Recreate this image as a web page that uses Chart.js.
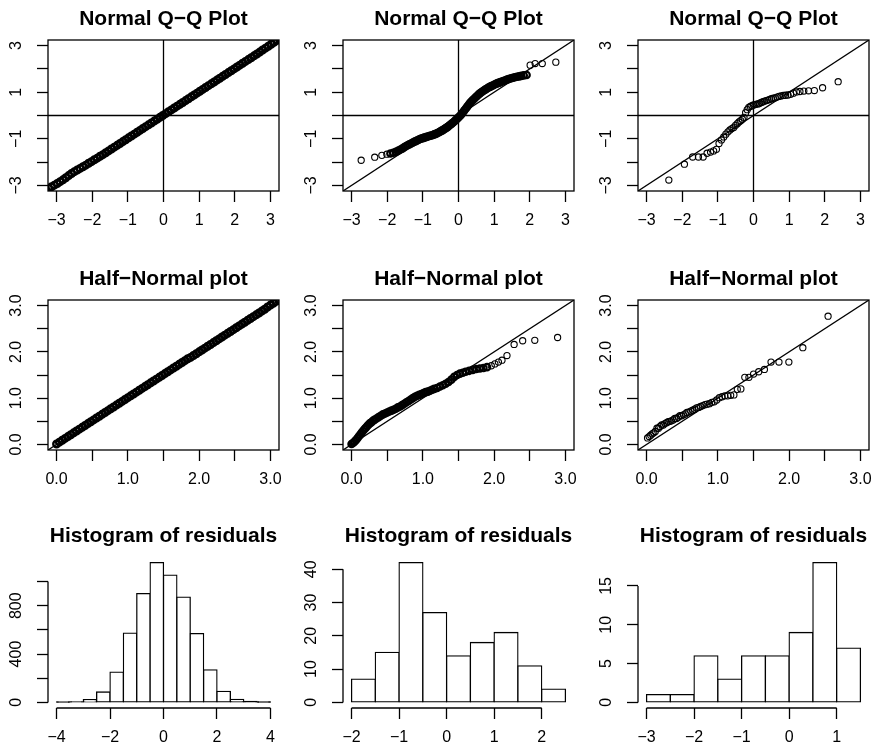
<!DOCTYPE html>
<html><head><meta charset="utf-8">
<script src="https://cdn.jsdelivr.net/npm/chart.js@4.4.1/dist/chart.umd.min.js"></script>
<style>
html,body{margin:0;padding:0;background:#fff;width:873px;height:749px;overflow:hidden;position:relative;}
canvas{position:absolute;}
</style></head><body>
<script>
// ---------------- DATA ----------------
const titles = ['Normal Q\u2212Q Plot', 'Half\u2212Normal plot', 'Histogram of residuals'];

// Q-Q / half-normal axis limits (before R's 4% extension)
const qqLim = [-3, 3];
const hnLim = [0, 3];
const qqTicks = [-3, -2, -1, 0, 1, 2, 3];
const qqXLabels = ['\u22123', '\u22122', '\u22121', '0', '1', '2', '3'];
const qqYLabels = ['\u22123', '', '\u22121', '', '1', '', '3'];
const hnTicks = [0, 0.5, 1, 1.5, 2, 2.5, 3];
const hnLabels = ['0.0', '', '1.0', '', '2.0', '', '3.0'];

// Panel 1: Normal Q-Q, large sample (dense band)
const qqDenseX = [
-3.30,-3.22,-3.14,-3.06,-2.98,-2.90,-2.82,-2.74,-2.66,-2.58,
-2.50,-2.42,-2.34,-2.26,-2.18,-2.10,-2.02,-1.94,-1.86,-1.78,
-1.70,-1.62,-1.54,-1.46,-1.38,-1.30,-1.22,-1.14,-1.06,-0.98,
-0.90,-0.82,-0.74,-0.66,-0.58,-0.50,-0.42,-0.34,-0.26,-0.18,
-0.10,-0.02,0.06,0.14,0.22,0.30,0.38,0.46,0.54,0.62,
0.70,0.78,0.86,0.94,1.02,1.10,1.18,1.26,1.34,1.42,
1.50,1.58,1.66,1.74,1.82,1.90,1.98,2.06,2.14,2.22,
2.30,2.38,2.46,2.54,2.62,2.70,2.78,2.86,2.94,3.02,
3.10,3.18,3.26];
const qqDenseY = [
-3.21,-3.13,-3.06,-2.99,-2.92,-2.84,-2.76,-2.67,-2.58,-2.49,
-2.41,-2.34,-2.27,-2.20,-2.13,-2.05,-1.98,-1.90,-1.83,-1.75,
-1.68,-1.60,-1.52,-1.44,-1.36,-1.28,-1.20,-1.12,-1.04,-0.96,
-0.88,-0.80,-0.72,-0.64,-0.56,-0.48,-0.40,-0.32,-0.24,-0.16,
-0.08,0.00,0.08,0.16,0.24,0.32,0.40,0.48,0.56,0.64,
0.72,0.80,0.88,0.96,1.04,1.12,1.20,1.28,1.36,1.44,
1.52,1.60,1.68,1.76,1.84,1.92,2.00,2.08,2.16,2.24,
2.32,2.40,2.48,2.56,2.64,2.72,2.81,2.89,2.97,3.06,
3.14,3.23,3.31];

// Panel 2: Normal Q-Q, medium sample
const qqMidX = [
-2.73,-2.35,-2.15,-2.01,-1.91,-1.83,-1.76,-1.70,-1.64,-1.58,
-1.53,-1.48,-1.43,-1.38,-1.33,-1.28,-1.24,-1.20,-1.16,-1.12,
-1.08,-1.04,-1.00,-0.96,-0.92,-0.88,-0.84,-0.80,-0.76,-0.72,
-0.68,-0.64,-0.60,-0.56,-0.52,-0.48,-0.44,-0.40,-0.36,-0.32,
-0.28,-0.24,-0.20,-0.16,-0.12,-0.08,-0.04,0.00,0.04,0.08,
0.12,0.16,0.20,0.24,0.28,0.32,0.36,0.40,0.44,0.48,
0.52,0.56,0.60,0.64,0.68,0.72,0.76,0.80,0.84,0.88,
0.92,0.96,1.00,1.04,1.08,1.12,1.16,1.20,1.24,1.28,
1.33,1.38,1.43,1.48,1.53,1.58,1.64,1.70,1.76,1.83,
1.91,2.01,2.15,2.35,2.73];
const qqMidY = [
-1.92,-1.79,-1.71,-1.66,-1.63,-1.60,-1.56,-1.52,-1.47,-1.42,
-1.37,-1.32,-1.28,-1.24,-1.20,-1.16,-1.13,-1.10,-1.07,-1.04,
-1.01,-0.99,-0.97,-0.95,-0.93,-0.91,-0.89,-0.87,-0.86,-0.84,
-0.81,-0.79,-0.76,-0.73,-0.70,-0.66,-0.63,-0.59,-0.55,-0.51,
-0.46,-0.41,-0.36,-0.31,-0.26,-0.20,-0.14,-0.08,-0.02,0.05,
0.13,0.21,0.29,0.37,0.45,0.53,0.60,0.66,0.72,0.78,
0.84,0.90,0.95,1.00,1.04,1.08,1.12,1.16,1.20,1.23,
1.26,1.29,1.32,1.35,1.38,1.40,1.42,1.45,1.47,1.49,
1.52,1.55,1.58,1.60,1.62,1.64,1.66,1.68,1.70,1.72,
1.74,2.16,2.23,2.23,2.29];

// Panel 3: Normal Q-Q, small sample (57)
const qqSmallX = [
-2.375,-1.938,-1.707,-1.544,-1.412,-1.302,-1.205,-1.119,-1.040,-0.967,
-0.899,-0.835,-0.775,-0.716,-0.661,-0.607,-0.555,-0.504,-0.455,-0.407,
-0.359,-0.313,-0.267,-0.221,-0.176,-0.132,-0.088,-0.044,0.000,0.044,
0.088,0.132,0.176,0.221,0.267,0.313,0.359,0.407,0.455,0.504,
0.555,0.607,0.661,0.716,0.775,0.835,0.899,0.967,1.040,1.119,
1.205,1.302,1.412,1.544,1.707,1.938,2.375];
const qqSmallY = [
-2.77,-2.09,-1.78,-1.78,-1.78,-1.62,-1.57,-1.52,-1.45,-1.20,
-1.05,-0.92,-0.80,-0.70,-0.62,-0.56,-0.51,-0.42,-0.35,-0.28,
-0.22,-0.16,-0.08,0.12,0.25,0.35,0.39,0.42,0.45,0.47,
0.49,0.495,0.53,0.56,0.59,0.62,0.64,0.66,0.69,0.72,
0.74,0.76,0.79,0.82,0.84,0.86,0.87,0.88,0.91,0.96,
1.01,1.03,1.05,1.06,1.07,1.19,1.45];

// Panel 4: Half-normal, large sample
const hnDenseX = [
0.00,0.04,0.08,0.12,0.16,0.20,0.24,0.28,0.32,0.36,
0.40,0.44,0.48,0.52,0.56,0.60,0.64,0.68,0.72,0.76,
0.80,0.84,0.88,0.92,0.96,1.00,1.04,1.08,1.12,1.16,
1.20,1.24,1.28,1.32,1.36,1.40,1.44,1.48,1.52,1.56,
1.60,1.64,1.68,1.72,1.76,1.80,1.84,1.88,1.92,1.96,
2.00,2.04,2.08,2.12,2.16,2.20,2.24,2.28,2.32,2.36,
2.40,2.44,2.48,2.52,2.56,2.60,2.64,2.68,2.72,2.76,
2.80,2.84,2.88,2.92,2.96,3.00,3.04,3.08,3.12,3.16,
3.20];
const hnDenseY = [
0.01,0.05,0.09,0.13,0.17,0.21,0.25,0.29,0.33,0.37,
0.41,0.45,0.49,0.53,0.57,0.61,0.65,0.69,0.73,0.77,
0.81,0.85,0.89,0.93,0.97,1.01,1.05,1.09,1.13,1.17,
1.21,1.25,1.29,1.33,1.37,1.41,1.45,1.49,1.53,1.57,
1.61,1.65,1.69,1.73,1.77,1.81,1.85,1.88,1.92,1.96,
2.00,2.04,2.08,2.12,2.16,2.20,2.24,2.28,2.32,2.36,
2.40,2.44,2.48,2.52,2.56,2.60,2.64,2.68,2.72,2.76,
2.80,2.84,2.88,2.92,2.97,3.01,3.05,3.09,3.13,3.17,
3.21];

// Panel 5: Half-normal, medium sample
const hnMidX = [
0.00,0.02,0.04,0.06,0.08,0.10,0.12,0.14,0.16,0.18,
0.20,0.22,0.24,0.26,0.28,0.30,0.32,0.35,0.38,0.41,
0.44,0.47,0.50,0.53,0.56,0.59,0.62,0.65,0.68,0.71,
0.74,0.77,0.80,0.83,0.86,0.89,0.92,0.95,0.98,1.01,
1.04,1.07,1.10,1.13,1.16,1.20,1.24,1.28,1.32,1.36,
1.40,1.44,1.48,1.52,1.56,1.60,1.65,1.70,1.75,1.80,
1.85,1.90,1.96,2.01,2.06,2.11,2.18,2.28,2.40,2.57,
2.89];
const hnMidY = [
0.01,0.03,0.06,0.09,0.13,0.17,0.21,0.25,0.29,0.33,
0.36,0.40,0.43,0.46,0.48,0.51,0.53,0.56,0.59,0.62,
0.65,0.67,0.69,0.71,0.73,0.75,0.77,0.80,0.82,0.85,
0.88,0.91,0.94,0.97,1.00,1.03,1.05,1.07,1.09,1.11,
1.13,1.14,1.16,1.18,1.20,1.22,1.25,1.28,1.31,1.35,
1.40,1.46,1.50,1.53,1.55,1.57,1.59,1.61,1.63,1.64,
1.65,1.67,1.70,1.74,1.78,1.82,1.92,2.16,2.24,2.25,
2.31];

// Panel 6: Half-normal, small sample (57)
const hnSmallX = [
0.014,0.036,0.058,0.079,0.101,0.123,0.146,0.168,0.190,0.212,
0.235,0.257,0.281,0.304,0.327,0.349,0.373,0.396,0.421,0.445,
0.469,0.492,0.517,0.543,0.567,0.592,0.620,0.647,0.675,0.702,
0.730,0.759,0.789,0.819,0.850,0.882,0.915,0.949,0.984,1.021,
1.059,1.097,1.138,1.180,1.225,1.273,1.323,1.378,1.436,1.501,
1.573,1.653,1.746,1.857,1.996,2.192,2.546];
const hnSmallY = [
0.14,0.17,0.20,0.23,0.25,0.28,0.35,0.35,0.39,0.42,
0.42,0.45,0.47,0.49,0.50,0.51,0.53,0.56,0.56,0.59,
0.62,0.62,0.64,0.66,0.69,0.70,0.72,0.74,0.76,0.79,
0.80,0.82,0.84,0.86,0.87,0.88,0.91,0.92,0.96,1.01,
1.03,1.05,1.05,1.06,1.07,1.19,1.20,1.45,1.45,1.52,
1.57,1.62,1.78,1.78,1.78,2.09,2.77];

// Histograms
const hist1Breaks = [-4,-3.5,-3,-2.5,-2,-1.5,-1,-0.5,0,0.5,1,1.5,2,2.5,3,3.5,4];
const hist1Counts = [2,5,22,86,251,573,901,1157,1053,871,570,270,91,25,8,3];
const hist1XTicks = [-4,-2,0,2,4];
const hist1XLabels = ['\u22124','\u22122','0','2','4'];
const hist1YTicks = [0,200,400,600,800,1000];
const hist1YLabels = ['0','','400','','800',''];

const hist2Breaks = [-2,-1.5,-1,-0.5,0,0.5,1,1.5,2,2.5];
const hist2Counts = [7,15,42,27,14,18,21,11,4];
const hist2XTicks = [-2,-1,0,1,2];
const hist2XLabels = ['\u22122','\u22121','0','1','2'];
const hist2YTicks = [0,10,20,30,40];
const hist2YLabels = ['0','10','20','30','40'];

const hist3Breaks = [-3,-2.5,-2,-1.5,-1,-0.5,0,0.5,1,1.5];
const hist3Counts = [1,1,6,3,6,6,9,18,7];
const hist3XTicks = [-3,-2,-1,0,1];
const hist3XLabels = ['\u22123','\u22122','\u22121','0','1'];
const hist3YTicks = [0,5,10,15];
const hist3YLabels = ['0','5','10','15'];

// ---------------- LAYOUT / STYLE ----------------
const FONT = "'Liberation Sans', Arial, Helvetica, sans-serif";
Chart.defaults.font.family = FONT;
Chart.defaults.color = '#000';
const LW = 1.3;
const TICK_FONT = 16;
const TITLE_FONT = 21;
const ROWS = [[40, 191], [300, 450], [557, 708]];
const COL_STEP = 295, LEFT_M = 48, BOX_W = 231, TOP_M = 40;
const TICK_LEN = 11, LABEL_OFF = 30;

const mctx = document.createElement('canvas').getContext('2d');
function measure(s) { mctx.font = TICK_FONT + 'px ' + FONT; return mctx.measureText(s).width; }
function extend(lim) { const d = (lim[1] - lim[0]) * 0.04; return [lim[0] - d, lim[1] + d]; }

function makeCanvas(row, col) {
  const x0 = LEFT_M + COL_STEP * col;
  const [y0, y1] = ROWS[row];
  const left = x0 - LEFT_M, top = y0 - TOP_M;
  const width = Math.min(COL_STEP, 873 - left);
  const bottom = row < 2 ? ROWS[row + 1][0] - TOP_M : 749;
  const height = bottom - top;
  const c = document.createElement('canvas');
  c.width = width; c.height = height;
  c.style.left = left + 'px'; c.style.top = top + 'px';
  c.style.width = width + 'px'; c.style.height = height + 'px';
  document.body.appendChild(c);
  return { canvas: c, rightPad: width - LEFT_M - BOX_W, xAxisH: height - TOP_M - (y1 - y0) };
}

function zeroPad(s) { s.paddingLeft = 0; s.paddingRight = 0; s.paddingTop = 0; s.paddingBottom = 0; }

function xAxis(range, ticks, labels, xAxisH) {
  const lh = TICK_FONT * 1.2;
  return {
    type: 'linear', position: 'bottom', min: range[0], max: range[1], offset: false,
    afterBuildTicks: s => { s.ticks = ticks.map(v => ({ value: v })); },
    afterFit: s => { s.height = xAxisH; zeroPad(s); },
    ticks: { autoSkip: false, minRotation: 0, maxRotation: 0, padding: LABEL_OFF - TICK_LEN - lh / 2,
             color: '#000', font: { size: TICK_FONT }, callback: (v, i) => labels[i] },
    grid: { display: true, offset: false, drawOnChartArea: false, drawTicks: true,
            tickLength: TICK_LEN, tickWidth: LW, tickColor: '#000' },
    border: { display: false }
  };
}
function yAxis(range, ticks, labels) {
  const w = Math.max(...labels.map(measure));
  return {
    type: 'linear', position: 'left', min: range[0], max: range[1], offset: false,
    afterBuildTicks: s => { s.ticks = ticks.map(v => ({ value: v })); },
    afterFit: s => { s.width = LEFT_M; zeroPad(s); },
    ticks: { autoSkip: false, minRotation: 90, maxRotation: 90, crossAlign: 'center',
             padding: LABEL_OFF + 1 - TICK_LEN - w / 2,
             color: '#000', font: { size: TICK_FONT }, callback: (v, i) => labels[i] },
    grid: { display: true, offset: false, drawOnChartArea: false, drawTicks: true,
            tickLength: TICK_LEN, tickWidth: LW, tickColor: '#000' },
    border: { display: false }
  };
}

const framePlugin = {
  id: 'frame',
  afterDatasetsDraw(chart) {
    const { ctx, chartArea: a } = chart;
    ctx.save(); ctx.strokeStyle = '#000'; ctx.lineWidth = LW;
    ctx.strokeRect(a.left, a.top, a.right - a.left, a.bottom - a.top);
    ctx.restore();
  }
};
const histAxesPlugin = {
  id: 'histAxes',
  afterDraw(chart) {
    const { ctx, chartArea: a, scales: { x, y } } = chart;
    const xt = x.ticks, yt = y.ticks;
    ctx.save(); ctx.strokeStyle = '#000'; ctx.lineWidth = LW;
    ctx.beginPath();
    ctx.moveTo(x.getPixelForValue(xt[0].value), a.bottom);
    ctx.lineTo(x.getPixelForValue(xt[xt.length - 1].value), a.bottom);
    ctx.moveTo(a.left, y.getPixelForValue(yt[0].value));
    ctx.lineTo(a.left, y.getPixelForValue(yt[yt.length - 1].value));
    ctx.stroke(); ctx.restore();
  }
};

function titleOpts(text) {
  const lh = TITLE_FONT * 1.2;
  const mid = TOP_M - 14 - 0.3465 * TITLE_FONT;
  const pt = mid - lh / 2;
  return { display: true, text, fullSize: false, align: 'center', color: '#000',
           font: { size: TITLE_FONT, weight: 'bold' }, padding: { top: pt, bottom: TOP_M - lh - pt } };
}

function baseOptions(rightPad, title, scales) {
  return {
    responsive: false, animation: false, devicePixelRatio: 1, events: [],
    layout: { padding: { left: 0, top: 0, bottom: 0, right: rightPad }, autoPadding: false },
    plugins: { legend: { display: false }, tooltip: { enabled: false }, title: titleOpts(title) },
    scales
  };
}

// style: {r, bw} for isolated points, {rb, bwb, band:[lo,hi]} for overlapping band points
function pointsDS(xs, ys, st) {
  const inBand = i => st.band && xs[i] >= st.band[0] && xs[i] <= st.band[1];
  return { data: xs.map((x, i) => ({ x, y: ys[i] })), showLine: false, pointStyle: 'circle',
           pointRadius: c => inBand(c.dataIndex) ? st.rb : st.r,
           pointBorderWidth: c => inBand(c.dataIndex) ? st.bwb : st.bw,
           pointBorderColor: '#000',
           pointBackgroundColor: 'rgba(0,0,0,0)', clip: 0 };
}
function lineDS(pts) {
  return { data: pts, showLine: true, pointRadius: 0, borderColor: '#000', borderWidth: LW,
           fill: false, tension: 0, clip: 0 };
}

function scatterPanel(row, col, title, xs, ys, lim, ticks, xLabels, yLabels, withHV, st) {
  const { canvas, rightPad, xAxisH } = makeCanvas(row, col);
  const range = extend(lim);
  const datasets = [
    lineDS([{ x: range[0], y: range[0] }, { x: range[1], y: range[1] }])
  ];
  if (withHV) {
    datasets.push(lineDS([{ x: range[0], y: 0 }, { x: range[1], y: 0 }]));
    datasets.push(lineDS([{ x: 0, y: range[0] }, { x: 0, y: range[1] }]));
  }
  datasets.push(pointsDS(xs, ys, st));
  new Chart(canvas, {
    type: 'scatter',
    data: { datasets },
    options: baseOptions(rightPad, title, {
      x: xAxis(range, ticks, xLabels, xAxisH),
      y: yAxis(range, ticks, yLabels)
    }),
    plugins: [framePlugin]
  });
}

function histPanel(col, breaks, counts, xTicks, xLabels, yTicks, yLabels) {
  const { canvas, rightPad, xAxisH } = makeCanvas(2, col);
  const xr = extend([breaks[0], breaks[breaks.length - 1]]);
  const yr = extend([0, Math.max(...counts)]);
  new Chart(canvas, {
    type: 'bar',
    data: { datasets: [{
      data: counts.map((c, i) => ({ x: (breaks[i] + breaks[i + 1]) / 2, y: c })),
      // very short bars collapse to a single outline line, as in R
      backgroundColor: c => {
        const y = c.chart.scales.y;
        if (!y || !c.raw) return '#fff';
        return (y.getPixelForValue(0) - y.getPixelForValue(c.raw.y)) < 2 * LW ? '#000' : '#fff';
      },
      borderColor: '#000', borderWidth: LW,
      borderSkipped: false, inflateAmount: LW / 2, barPercentage: 1, categoryPercentage: 1,
      clip: false
    }] },
    options: baseOptions(rightPad, titles[2], {
      x: xAxis(xr, xTicks, xLabels, xAxisH),
      y: yAxis(yr, yTicks, yLabels)
    }),
    plugins: [histAxesPlugin]
  });
}

const denseStyle = { r: 3.3, bw: 2.4 };
const smallStyle = { r: 3.1, bw: 1.1 };
scatterPanel(0, 0, titles[0], qqDenseX, qqDenseY, qqLim, qqTicks, qqXLabels, qqYLabels, true, denseStyle);
scatterPanel(0, 1, titles[0], qqMidX, qqMidY, qqLim, qqTicks, qqXLabels, qqYLabels, true,
             { r: 3.1, bw: 1.1, rb: 3.2, bwb: 2.2, band: [-1.95, 1.95] });
scatterPanel(0, 2, titles[0], qqSmallX, qqSmallY, qqLim, qqTicks, qqXLabels, qqYLabels, true, smallStyle);
scatterPanel(1, 0, titles[1], hnDenseX, hnDenseY, hnLim, hnTicks, hnLabels, hnLabels, false, denseStyle);
scatterPanel(1, 1, titles[1], hnMidX, hnMidY, hnLim, hnTicks, hnLabels, hnLabels, false,
             { r: 3.1, bw: 1.1, rb: 3.2, bwb: 2.2, band: [0, 1.92] });
scatterPanel(1, 2, titles[1], hnSmallX, hnSmallY, hnLim, hnTicks, hnLabels, hnLabels, false, smallStyle);
histPanel(0, hist1Breaks, hist1Counts, hist1XTicks, hist1XLabels, hist1YTicks, hist1YLabels);
histPanel(1, hist2Breaks, hist2Counts, hist2XTicks, hist2XLabels, hist2YTicks, hist2YLabels);
histPanel(2, hist3Breaks, hist3Counts, hist3XTicks, hist3XLabels, hist3YTicks, hist3YLabels);
</script>
</body></html>
